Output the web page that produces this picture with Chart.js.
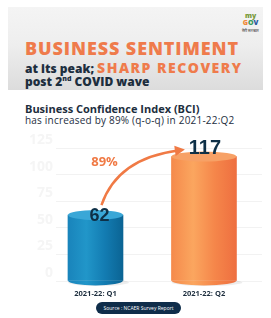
<!DOCTYPE html>
<html lang="en">

<head>
    <meta charset="UTF-8">
    <title>Business Confidence Index</title>
    <script src="https://cdn.jsdelivr.net/npm/chart.js"></script>
    <style>
        body {
            margin: 0;
            padding: 0;
            background: #ffffff;
            font-family: "Open Sans", Arial, sans-serif;
        }

        .page {
            position: relative;
            width: 271px;
            height: 318px;
            overflow: hidden;
        }

        .banner {
            position: absolute;
            left: 8px;
            top: 7px;
            width: 255px;
            height: 83px;
            background: linear-gradient(#f4f4f4 0%, #eeeeee 45%, #dcdcdc 100%);
        }

        .headline {
            position: absolute;
            left: 25px;
            white-space: nowrap;
            font-weight: 800;
        }

        .orange { color: #ef7b4b; }
        .navy { color: #1d2e3e; }

        .logo {
            position: absolute;
            left: 242px;
            top: 12px;
            font-size: 7px;
            font-weight: 800;
            line-height: 7px;
            text-align: center;
        }

        .chart-wrap {
            position: absolute;
            left: 0;
            top: 0;
            width: 271px;
            height: 318px;
        }

        .source {
            position: absolute;
            left: 96px;
            top: 302px;
            width: 85px;
            height: 12px;
            border-radius: 6px;
            background: #0f2d4a;
            color: #ffffff;
            font-size: 5px;
            line-height: 12px;
            text-align: center;
            white-space: nowrap;
        }
    </style>
</head>

<body>
    <div class="page">
        <div class="banner"></div>
        <div class="logo">
            <span style="color:#7a9a3a">my</span><br>
            <span style="color:#f08a3a">G</span><span style="color:#3a9a5a">O</span><span style="color:#2a5aa0">V</span><br>
            <span style="font-size:4px;color:#555">मेरी सरकार</span>
        </div>
        <div class="headline orange" style="top:36px;font-size:18px;letter-spacing:0.9px;">BUSINESS SENTIMENT</div>
        <div class="headline" style="top:58px;font-size:12px;">
            <span class="navy">at its peak;</span> <span class="orange" style="font-size:14px;letter-spacing:1.5px;">SHARP RECOVERY</span>
        </div>
        <div class="headline navy" style="top:73px;font-size:12px;">post 2<sup style="font-size:7px;">nd</sup> COVID wave</div>
        <div class="headline navy" style="top:101px;font-size:11px;font-weight:700;">Business Confidence Index (BCI)</div>
        <div class="headline navy" style="top:113px;font-size:10px;font-weight:400;letter-spacing:0.2px;">has increased by 89% (q-o-q) in 2021-22:Q2</div>

        <div class="chart-wrap"><canvas id="bciChart"></canvas></div>

        <div class="source">Source : NCAER Survey Report</div>
    </div>

    <script>
        // BCI values read from the infographic
        const quarters = ['2021-22: Q1', '2021-22: Q2'];
        const bciValues = [62, 117];
        const growthText = '89%';
        const yMax = 125;
        const yStep = 25;

        const barWidths = [55, 65];
        const sideStops = [
            ['#1984bb', '#2196c9', '#137cb2', '#0b6494'],
            ['#f58a4c', '#fba65f', '#f5864a', '#ee6f40']
        ];
        const topColors = ['#3aa7d7', '#f7a166'];

        function barGradient(ctx) {
            const chart = ctx.chart;
            const i = ctx.datasetIndex;
            if (!chart.chartArea) return sideStops[i][1];
            const cx = chart.scales.x.getPixelForValue(i + 1);
            const w = barWidths[i] / 2;
            const g = chart.ctx.createLinearGradient(cx - w, 0, cx + w, 0);
            sideStops[i].forEach((c, k) => g.addColorStop(k / 3, c));
            return g;
        }

        // cylinder caps, value labels and the growth arrow
        const cylinderPlugin = {
            id: 'cylinder',
            beforeDatasetsDraw(chart) {
                const ctx = chart.ctx;
                ctx.save();
                chart.data.datasets.forEach((ds, i) => {
                    chart.getDatasetMeta(i).data.forEach(el => {
                        const { x, base, width } = el.getProps(['x', 'base', 'width'], true);
                        ctx.fillStyle = 'rgba(0,0,0,0.07)';
                        ctx.beginPath();
                        ctx.ellipse(x + 3, base + 2, width / 2 + 3, 3.5, 0, 0, Math.PI * 2);
                        ctx.fill();
                    });
                });
                ctx.restore();
            },
            afterDatasetsDraw(chart) {
                const ctx = chart.ctx;
                const pts = [];
                ctx.save();
                chart.data.datasets.forEach((ds, i) => {
                    chart.getDatasetMeta(i).data.forEach(el => {
                        const { x, y, base, width } = el.getProps(['x', 'y', 'base', 'width'], true);
                        const ry = 5;
                        ctx.fillStyle = el.options.backgroundColor;
                        ctx.beginPath();
                        ctx.ellipse(x, base, width / 2, ry, 0, 0, Math.PI);
                        ctx.fill();
                        ctx.fillStyle = topColors[i];
                        ctx.beginPath();
                        ctx.ellipse(x, y, width / 2, ry, 0, 0, Math.PI * 2);
                        ctx.fill();
                        pts.push({ x, y });
                    });
                });

                ctx.fillStyle = '#0e3047';
                ctx.textAlign = 'center';
                ctx.textBaseline = 'middle';
                ctx.font = 'bold 18px "Liberation Sans", Arial, sans-serif';
                ctx.fillText(bciValues[0], pts[0].x + 4, pts[0].y + 1);
                ctx.font = 'bold 20px "Liberation Sans", Arial, sans-serif';
                ctx.fillText(bciValues[1], pts[1].x + 1, pts[1].y - 8);

                // arrow from Q1 to Q2
                const sx = pts[0].x + 6, sy = pts[0].y - 10;
                const ex = pts[1].x - 26, ey = pts[1].y - 6;
                const cx = sx + 16, cy = ey + 8;
                ctx.strokeStyle = '#f07a45';
                ctx.fillStyle = '#f07a45';
                ctx.lineWidth = 2.5;
                ctx.beginPath();
                ctx.moveTo(sx, sy);
                ctx.quadraticCurveTo(cx, cy, ex, ey);
                ctx.stroke();
                const ang = Math.atan2(ey - cy, ex - cx);
                ctx.beginPath();
                ctx.moveTo(ex + 7 * Math.cos(ang), ey + 7 * Math.sin(ang));
                ctx.lineTo(ex + 6 * Math.cos(ang + 2.1), ey + 6 * Math.sin(ang + 2.1));
                ctx.lineTo(ex + 6 * Math.cos(ang - 2.1), ey + 6 * Math.sin(ang - 2.1));
                ctx.closePath();
                ctx.fill();

                ctx.font = 'bold 13px "Open Sans", Arial, sans-serif';
                ctx.fillText(growthText, sx + 3, ey + 12);
                ctx.restore();
            }
        };

        new Chart(document.getElementById('bciChart'), {
            type: 'bar',
            data: {
                datasets: bciValues.map((v, i) => ({
                    label: quarters[i],
                    data: [{ x: i + 1, y: v }],
                    barThickness: barWidths[i],
                    backgroundColor: barGradient,
                    borderWidth: 0
                }))
            },
            options: {
                responsive: true,
                maintainAspectRatio: false,
                animation: false,
                grouped: false,
                layout: { padding: { top: 148, right: 9, left: 0, bottom: 0 } },
                plugins: { legend: { display: false }, tooltip: { enabled: false } },
                scales: {
                    x: {
                        type: 'linear',
                        offset: false,
                        min: 0.636,
                        max: 2.535,
                        afterBuildTicks: axis => { axis.ticks = quarters.map((q, i) => ({ value: i + 1 })); },
                        afterFit: axis => { axis.height = 37; },
                        ticks: {
                            callback: v => quarters[v - 1],
                            color: '#1d2e3e',
                            font: { family: '"Open Sans", Arial, sans-serif', size: 7.5, weight: 'bold' },
                            padding: 0
                        },
                        grid: { display: false },
                        border: { display: false }
                    },
                    y: {
                        min: 0,
                        max: yMax,
                        afterFit: axis => { axis.width = 56; },
                        ticks: {
                            stepSize: yStep,
                            color: '#f5f5f5',
                            labelOffset: -8,
                            padding: 3,
                            font: { family: '"Open Sans", Arial, sans-serif', size: 14, weight: 'bold' }
                        },
                        grid: { color: '#f2f2f2', drawTicks: false },
                        border: { display: false }
                    }
                }
            },
            plugins: [cylinderPlugin]
        });
    </script>
</body>

</html>
